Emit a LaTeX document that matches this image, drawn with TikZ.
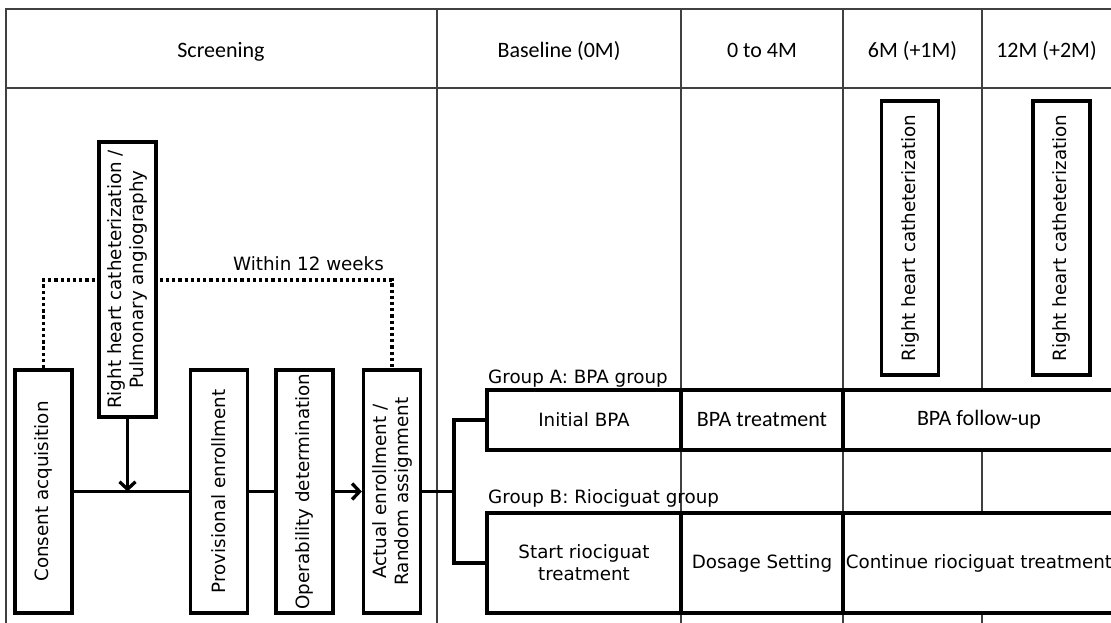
\documentclass[tikz,border=0pt]{standalone}
\usepackage{fontspec}
\setmainfont{DejaVu Sans}
\newfontfamily\calfont{Carlito}
\usetikzlibrary{arrows.meta,backgrounds}
\newcommand\lblfont{\fontsize{18.3}{22}\selectfont}
\newcommand\hdrfont{\calfont\fontsize{22}{26}\selectfont}
\begin{document}
\begin{tikzpicture}[x=1pt,y=-1pt,
  grid/.style={line width=1.2pt, draw=black!75},
  hdr/.style={font=\hdrfont, anchor=base, inner sep=0pt},
  vbox/.style={draw, line width=3.3pt, fill=white, rotate=90, minimum height=57pt,
               inner sep=0pt, align=center, font=\lblfont},
  cell/.style={draw, line width=3.3pt, fill=white, inner sep=0pt, align=center, font=\lblfont},
  calcell/.style={cell, font=\hdrfont},
  grouplbl/.style={anchor=base west, inner sep=0pt, font=\lblfont},
  flow/.style={line width=3.3pt},
  arr/.style={flow, -{Straight Barb[length=7.5pt,width=16pt]}},
  window/.style={line width=3.3pt, dash pattern=on 3.3pt off 2.9pt},
]
\useasboundingbox (0,0) rectangle (1111,623);
\clip (0,0) rectangle (1111,623);

% table frame and column rules
\draw[grid] (6,623) -- (6,9) -- (1120,9);
\draw[grid] (6,88) -- (1120,88);
\foreach \cx in {437,681,843,982} \draw[grid] (\cx,9) -- (\cx,623);

% column headings
\node[hdr] (h1) at (221,58) {Screening};
\node[hdr] (h2) at (559,58) {Baseline (0M)};
\node[hdr] (h3) at (762,58) {0 to 4M};
\node[hdr] (h4) at (912.5,58) {6M (+1M)};
\node[hdr] (h5) at (1046.5,58) {12M (+2M)};

% screening steps
\node[vbox, minimum width=243pt] (consent) at (43.5,491.5) {Consent acquisition};
\node[vbox, minimum width=275pt] (rhc) at (127.5,279.5) {Right heart catheterization /\\Pulmonary angiography};
\node[vbox, minimum width=243pt] (prov) at (219,491.5) {Provisional enrollment};
\node[vbox, minimum width=243pt] (oper) at (304.5,491.5) {Operability determination};
\node[vbox, minimum width=243pt] (actual) at (392,491.5) {Actual enrollment /\\Random assignment};

% follow-up catheterizations
\node[vbox, minimum width=274pt] (rhcA) at (910,238) {Right heart catheterization};
\node[vbox, minimum width=274pt] (rhcB) at (1061.5,238) {Right heart catheterization};

% group A: BPA
\node[grouplbl] (ga) at (488,383) {Group A: BPA group};
\node[cell, minimum width=194pt, minimum height=60pt] (a1) at (584,420) {Initial BPA};
\node[calcell, minimum width=162pt, minimum height=60pt] (a2) at (762,420) {BPA treatment};
\node[calcell, minimum width=272pt, minimum height=60pt] (a3) at (979,420) {BPA follow-up};

% group B: riociguat
\node[grouplbl] (gb) at (488,503) {Group B: Riociguat group};
\node[cell, minimum width=194pt, minimum height=100pt] (b1) at (584,563) {Start riociguat\\treatment};
\node[cell, minimum width=162pt, minimum height=100pt] (b2) at (762,563) {Dosage Setting};
\node[cell, minimum width=272pt, minimum height=100pt] (b3) at (979,563) {Continue riociguat treatment};

% 12-week window
\coordinate (dr) at (392,280);
\begin{scope}[on background layer]
  \draw[window] (consent.east) |- (dr) -- (actual.east);
\end{scope}
\node[anchor=base, inner sep=0pt, font=\lblfont] (wk) at (308.5,270) {Within 12 weeks};

% flow connectors
\draw[arr] (rhc.west) -- (rhc.west |- consent.south);
\draw[flow] (consent.south) -- (prov.north);
\draw[flow] (prov.south) -- (oper.north);
\draw[arr] (oper.south) -- (actual.north);
\coordinate (br) at (454,491.5);
\draw[flow] (actual.south) -- (br);
\draw[flow] (a1.west) -| (br) |- (b1.west);
\end{tikzpicture}
\end{document}
